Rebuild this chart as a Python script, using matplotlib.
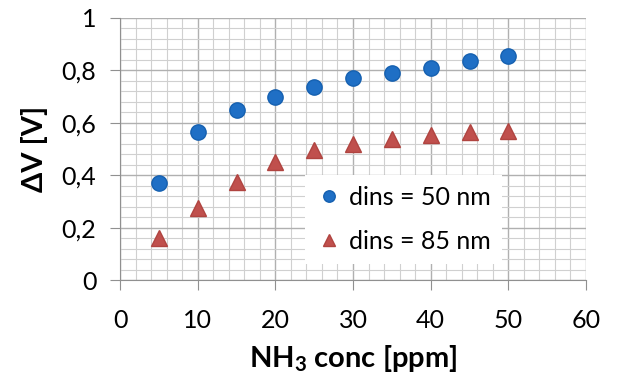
import numpy as np
import matplotlib.pyplot as plt
from matplotlib.ticker import MultipleLocator, FuncFormatter

plt.rcParams['font.family'] = ['Lato', 'DejaVu Sans']
plt.rcParams['mathtext.fontset'] = 'custom'
plt.rcParams['mathtext.rm'] = 'Lato'
plt.rcParams['mathtext.bf'] = 'Lato:bold'

conc = np.array([5, 10, 15, 20, 25, 30, 35, 40, 45, 50])
dv_50 = np.array([0.37, 0.565, 0.65, 0.70, 0.735, 0.77, 0.79, 0.81, 0.835, 0.855])
dv_85 = np.array([0.16, 0.275, 0.375, 0.45, 0.495, 0.52, 0.54, 0.555, 0.565, 0.57])

fig = plt.figure(figsize=(6.18, 3.81), dpi=100)
ax = fig.add_axes([120 / 618, 1 - 280 / 381, 466 / 618, 262 / 381])

ax.plot(conc, dv_50, marker="o", markersize=11, ls="None", color="#1f6fc5",
        markeredgecolor="#1560b0", label="dins = 50 nm", zorder=3)
ax.plot(conc, dv_85, marker="^", markersize=12, ls="None", color="#c0504d",
        markeredgecolor="#b04440", label="dins = 85 nm", zorder=3)

ax.set_xlim(0, 60)
ax.set_ylim(0, 1)
ax.xaxis.set_major_locator(MultipleLocator(10))
ax.xaxis.set_minor_locator(MultipleLocator(2))
ax.yaxis.set_major_locator(MultipleLocator(0.2))
ax.yaxis.set_minor_locator(MultipleLocator(0.04))
ax.yaxis.set_major_formatter(FuncFormatter(lambda v, p: ("%g" % round(v, 2)).replace(".", ",")))

ax.grid(which="major", color="#b0b0b0", lw=1.0)
ax.grid(which="minor", color="#d0d0d0", lw=0.8)
ax.set_axisbelow(True)
for s in ["top", "right"]:
    ax.spines[s].set_visible(False)
for s in ["left", "bottom"]:
    ax.spines[s].set_color("#909090")
ax.tick_params(which="major", length=7, color="#909090", labelsize=18)
ax.tick_params(axis="x", pad=14)
ax.tick_params(axis="y", pad=10)
ax.tick_params(which="minor", length=0)

ax.set_xlabel(r"$\mathbf{NH_3}$ conc [ppm]", fontsize=21, fontweight="bold", labelpad=8)
ax.set_ylabel("ΔV [V]", fontsize=21, fontweight="bold", labelpad=10)

leg = ax.legend(loc="lower right", bbox_to_anchor=(0.82, 0.06), borderaxespad=0,
                fontsize=18, frameon=True, fancybox=False, edgecolor="none",
                framealpha=1, handletextpad=0.3, handlelength=1.0,
                labelspacing=0.85, markerscale=0.75, borderpad=0.45)

plt.savefig("out.png", dpi=100)
